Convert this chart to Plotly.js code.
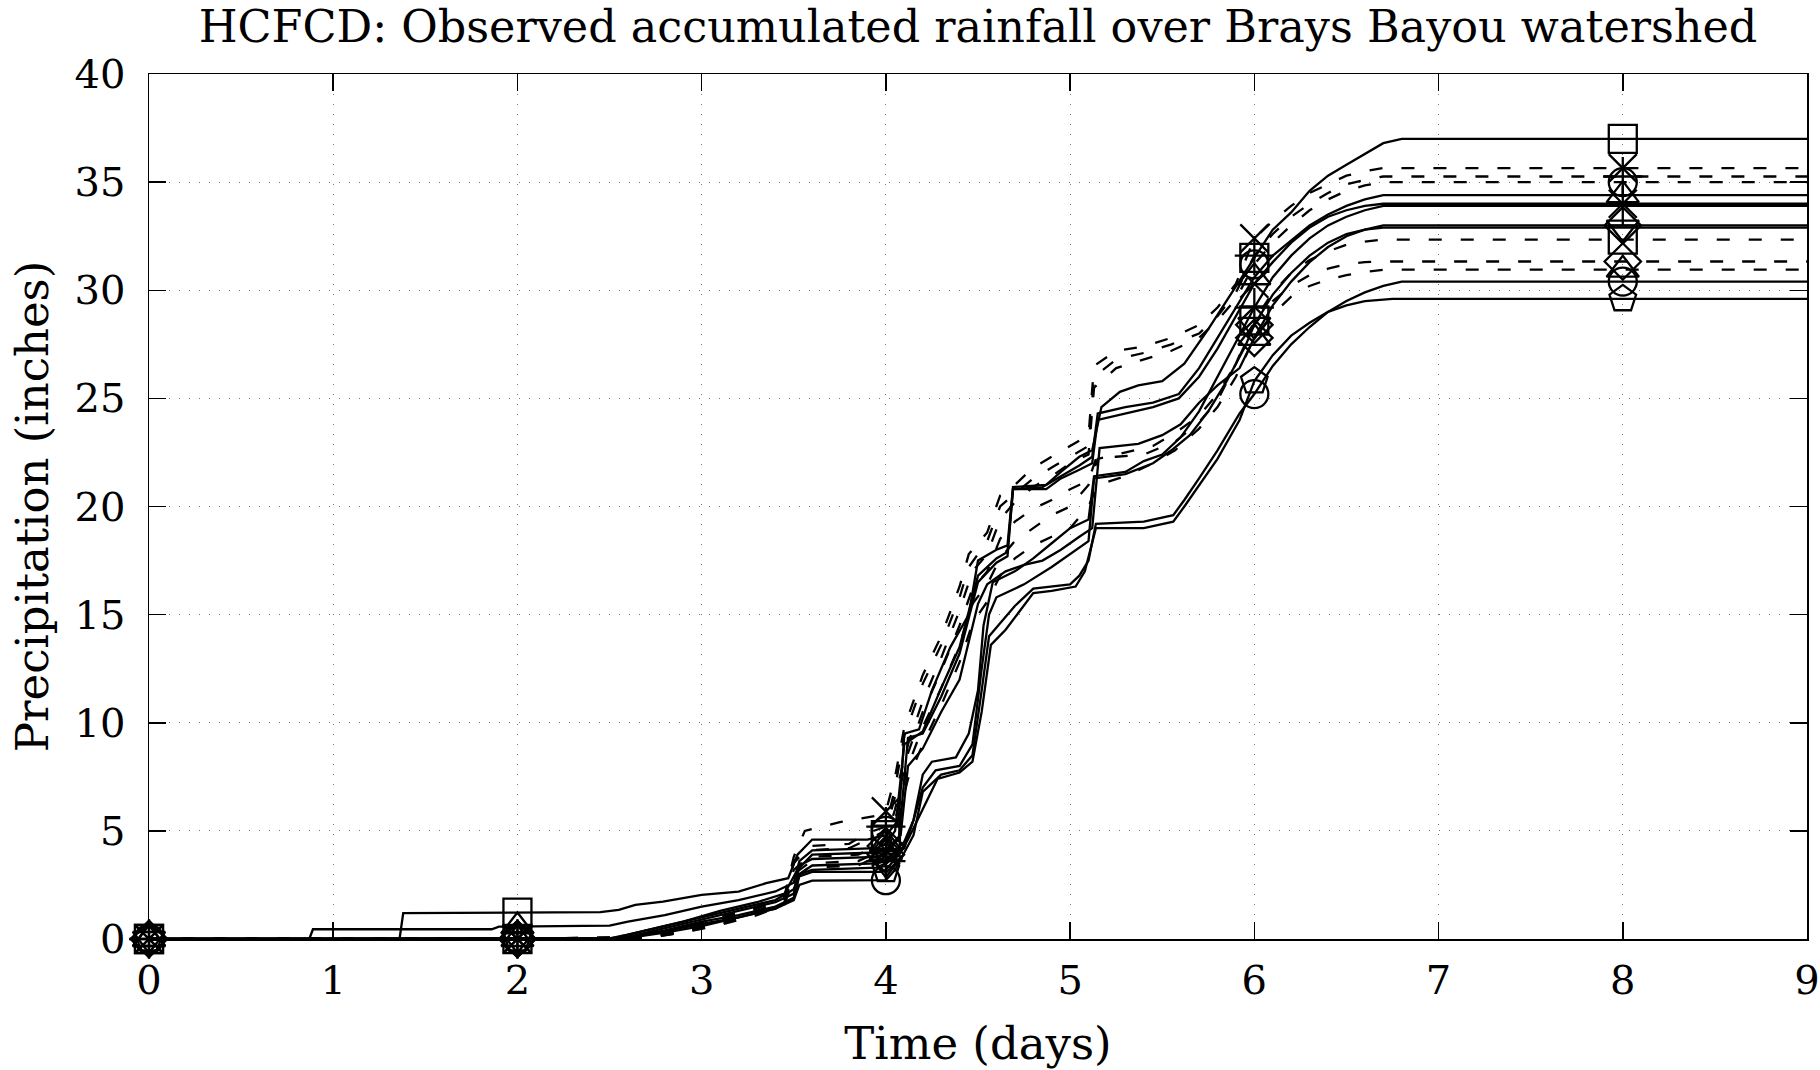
<!DOCTYPE html>
<html>
<head>
<meta charset="utf-8">
<script src="https://cdn.plot.ly/plotly-3.0.1.min.js"></script>
<style>
  html, body { margin: 0; padding: 0; background: #fff; }
  #chart { width: 1820px; height: 1070px; }
</style>
</head>
<body>
<div id="chart"></div>
<script>
// ---- Data (time in days, accumulated precipitation in inches) ----
const t_s1 = [0,1.36,1.38,2,2.45,2.55,2.64,2.79,3.0,3.2,3.35,3.47,3.52,3.6,3.9,4.0,4.07,4.1,4.18,4.25,4.35,4.45,4.5,4.6,4.66,4.69,4.87,4.95,5.05,5.12,5.17,5.27,5.37,5.5,5.62,5.75,5.87,6.0,6.1,6.2,6.3,6.4,6.5,6.6,6.7,6.8,8,9];
const p_s1 = [0,0,1.2,1.22,1.24,1.35,1.58,1.73,2.04,2.19,2.58,2.81,3.9,4.6,4.6,4.8,5.5,9.5,9.7,11.5,13.5,15.0,17.5,18.0,18.2,20.9,21.0,21.6,22.3,22.6,24.6,25.3,25.6,25.8,26.6,28.2,29.8,31.5,32.8,33.6,34.6,35.3,35.8,36.3,36.8,37.0,37.0,37.0];

const t_s2 = [0,0.87,0.89,1.86,1.9,2,2.5,2.6,2.8,3.0,3.2,3.4,3.5,3.53,3.6,3.95,4.0,4.05,4.1,4.2,4.3,4.4,4.5,4.6,4.66,4.69,4.85,4.95,5.05,5.12,5.15,5.3,5.45,5.59,5.7,5.8,5.9,6.0,6.1,6.2,6.3,6.4,6.5,6.6,6.7,8,9];
const p_s2 = [0,0,0.45,0.45,0.57,0.58,0.62,0.8,1.1,1.5,1.8,2.2,2.6,3.6,4.1,4.2,4.4,5.0,9.0,9.6,11.6,13.5,16.8,17.6,17.9,20.8,20.9,21.4,21.9,22.3,24.3,24.6,24.8,25.2,26.4,27.8,29.2,30.6,31.6,32.3,33.0,33.5,33.9,34.2,34.4,34.4,34.4];

const t_s3 = [0,2,2.5,2.55,2.7,2.9,3.1,3.3,3.45,3.52,3.6,3.95,4.0,4.07,4.12,4.2,4.3,4.4,4.5,4.6,4.66,4.69,4.87,4.95,5.05,5.12,5.15,5.3,5.45,5.59,5.7,5.8,5.9,6.0,6.1,6.2,6.3,6.4,6.5,6.6,6.7,8,9];
const p_s3 = [0,0,0.02,0.1,0.4,0.8,1.3,1.7,2.1,3.2,3.9,4.0,4.1,4.6,9.3,9.5,11.2,13.2,16.5,17.4,17.7,20.8,20.8,21.3,21.7,22.0,24.0,24.3,24.6,25.0,26.0,27.3,28.8,30.3,31.3,32.2,32.9,33.4,33.7,33.9,34.0,34.0,34.0];

const t_s4 = [0,2,2.5,2.6,2.8,3.0,3.2,3.4,3.5,3.53,3.6,3.95,4.0,4.1,4.15,4.2,4.25,4.38,4.45,4.5,4.53,4.58,4.7,4.8,4.9,5.0,5.1,5.13,5.3,5.4,5.5,5.6,5.7,5.8,5.9,6.0,6.1,6.2,6.3,6.4,6.5,6.6,6.7,8,9];
const p_s4 = [0,0,0.03,0.2,0.6,1.0,1.4,1.8,2.3,3.0,3.4,3.5,3.6,4.5,5.5,7.6,8.2,8.4,9.5,11.5,14.5,16.5,17.0,17.6,18.3,19.0,19.4,21.4,21.6,22.1,22.4,23.2,24.4,26.0,27.6,29.2,30.6,31.6,32.4,33.0,33.4,33.7,33.9,33.9,33.9];

const t_s5 = [0,2,2.5,2.6,2.8,3.0,3.2,3.4,3.5,3.53,3.6,3.95,4.0,4.08,4.12,4.2,4.3,4.4,4.5,4.55,4.65,4.75,4.85,4.95,5.05,5.12,5.16,5.37,5.5,5.6,5.7,5.8,5.92,6.0,6.1,6.2,6.3,6.4,6.5,6.6,6.7,8,9];
const p_s5 = [0,0,0.02,0.1,0.5,0.9,1.3,1.7,2.1,3.4,3.7,3.8,3.9,4.8,8.0,8.8,10.5,12.0,15.5,16.4,17.0,17.3,17.5,18.0,18.6,19.0,22.7,22.9,23.3,23.8,24.8,25.6,26.4,27.8,29.3,30.4,31.3,32.0,32.5,32.8,33.0,33.0,33.0];

const t_s6 = [0,2,2.5,2.6,2.8,3.0,3.2,3.4,3.5,3.53,3.6,3.95,4.0,4.1,4.15,4.2,4.27,4.4,4.47,4.52,4.56,4.6,4.75,4.9,5.0,5.1,5.13,5.3,5.45,5.55,5.65,5.75,5.85,5.95,6.0,6.1,6.2,6.3,6.4,6.5,6.6,6.7,8,9];
const p_s6 = [0,0,0.02,0.1,0.4,0.8,1.1,1.5,1.9,3.0,3.2,3.3,3.5,4.2,5.5,7.0,7.8,8.0,9.0,12.5,15.0,15.8,16.4,17.2,17.8,18.4,21.3,21.5,22.0,22.6,23.3,24.4,25.8,27.4,28.4,29.8,30.8,31.6,32.2,32.6,32.8,32.9,32.9,32.9];

const t_s7 = [0,2,2.5,2.6,2.8,3.0,3.2,3.4,3.5,3.53,3.6,3.98,4.0,4.05,4.1,4.15,4.2,4.3,4.4,4.47,4.52,4.56,4.62,4.7,4.8,5.0,5.05,5.1,5.14,5.4,5.56,5.62,5.7,5.8,5.92,6.0,6.1,6.2,6.3,6.4,6.5,6.6,6.7,6.8,8,9];
const p_s7 = [0,0,0.01,0.05,0.3,0.6,1.0,1.4,1.8,2.5,2.7,2.7,2.72,3.2,4.0,4.8,6.8,7.6,7.8,8.5,11.5,14.0,14.6,15.4,16.2,16.4,16.8,17.5,19.2,19.3,19.6,20.3,21.3,22.6,24.3,25.2,26.5,27.5,28.3,29.0,29.5,29.9,30.2,30.4,30.4,30.4];

const t_s8 = [0,2,2.5,2.6,2.8,3.0,3.2,3.4,3.5,3.53,3.6,3.97,4.0,4.05,4.12,4.2,4.28,4.4,4.47,4.52,4.57,4.65,4.72,4.8,4.9,5.03,5.08,5.14,5.4,5.56,5.62,5.7,5.8,5.92,6.0,6.1,6.2,6.3,6.4,6.5,6.6,6.75,8,9];
const p_s8 = [0,0,0.01,0.05,0.35,0.7,1.0,1.4,1.9,2.9,3.1,3.1,3.2,3.7,4.6,6.0,7.4,7.7,8.2,10.5,13.6,14.3,15.1,16.0,16.1,16.3,17.0,19.0,19.0,19.3,20.0,21.0,22.2,24.0,25.8,27.0,27.9,28.5,29.0,29.3,29.5,29.6,29.6,29.6];

const t_d1 = [0,2,2.7,2.9,3.1,3.3,3.45,3.5,3.56,3.75,3.95,4.0,4.05,4.1,4.2,4.3,4.4,4.45,4.55,4.62,4.7,4.8,4.9,5.0,5.1,5.13,5.25,5.4,5.55,5.7,5.8,5.9,6.0,6.1,6.2,6.3,6.4,6.5,6.6,6.7,8,9];
const p_d1 = [0,0,0.1,0.5,1.0,1.5,2.0,3.8,5.0,5.4,5.7,5.9,7.5,9.8,12.2,14.0,16.3,17.8,18.8,20.5,21.0,21.8,22.3,22.8,23.3,26.5,27.2,27.4,27.8,28.4,29.2,30.3,32.4,33.2,33.9,34.5,34.9,35.3,35.5,35.65,35.65,35.65];

const t_d2 = [0,2,2.7,2.9,3.1,3.3,3.45,3.5,3.58,3.8,3.9,4.0,4.05,4.1,4.2,4.3,4.4,4.45,4.55,4.62,4.7,4.8,4.9,5.0,5.1,5.13,5.25,5.4,5.55,5.7,5.8,5.9,6.0,6.1,6.2,6.3,6.4,6.5,6.6,6.7,8,9];
const p_d2 = [0,0,0.05,0.4,0.9,1.4,1.9,3.5,4.3,4.4,4.9,5.2,7.0,9.4,11.8,13.6,15.8,17.2,18.4,20.0,20.6,21.3,21.8,22.3,22.8,26.0,26.8,27.1,27.5,28.0,28.8,29.9,31.6,32.6,33.4,34.0,34.5,34.9,35.1,35.26,35.26,35.26];

const t_d3 = [0,2,2.7,2.9,3.1,3.3,3.45,3.5,3.58,3.8,3.9,4.0,4.05,4.12,4.2,4.3,4.4,4.47,4.55,4.62,4.7,4.8,4.9,5.0,5.1,5.13,5.25,5.4,5.55,5.7,5.8,5.9,6.0,6.1,6.2,6.3,6.4,6.5,6.6,6.7,8,9];
const p_d3 = [0,0,0.1,0.45,0.95,1.45,1.95,3.6,4.1,4.2,4.6,5.0,6.6,9.0,11.0,13.0,15.2,17.0,17.8,19.4,20.2,20.9,21.4,22.0,22.4,25.5,26.4,26.8,27.2,27.8,28.6,29.6,31.2,32.2,33.0,33.7,34.2,34.6,34.85,35.0,35.0,35.0];

const t_d4 = [0,2,2.7,2.9,3.1,3.3,3.45,3.5,3.58,3.85,3.95,4.0,4.05,4.12,4.2,4.3,4.4,4.47,4.55,4.62,4.7,4.8,4.9,5.0,5.1,5.14,5.25,5.4,5.57,5.7,5.8,5.9,6.0,6.1,6.2,6.3,6.4,6.5,6.6,6.7,8,9];
const p_d4 = [0,0,0.05,0.3,0.7,1.2,1.7,3.2,3.8,3.9,4.3,4.6,6.0,8.6,10.5,12.4,14.5,16.2,17.0,18.5,19.3,19.9,20.3,20.8,21.2,22.2,22.3,22.4,23.0,23.9,24.9,26.6,28.6,29.9,30.8,31.4,31.8,32.1,32.25,32.34,32.34,32.34];

const t_d5 = [0,2,2.7,2.9,3.1,3.3,3.45,3.5,3.58,3.85,3.95,4.0,4.05,4.12,4.2,4.3,4.4,4.47,4.55,4.62,4.7,4.8,4.9,5.0,5.05,5.1,5.15,5.3,5.45,5.57,5.7,5.8,5.9,6.0,6.1,6.2,6.3,6.4,6.5,6.6,6.7,8,9];
const p_d5 = [0,0,0.05,0.35,0.8,1.3,1.8,3.0,3.5,3.6,4.0,4.3,5.5,8.0,9.8,11.6,13.6,15.5,16.4,17.6,18.4,19.0,19.6,20.0,20.5,21.0,22.2,22.5,22.8,23.4,24.2,25.2,26.6,28.4,29.5,30.2,30.7,31.0,31.2,31.3,31.33,31.33,31.33];

const t_d6 = [0,2,2.7,2.9,3.1,3.3,3.45,3.5,3.58,3.85,3.95,4.0,4.05,4.12,4.2,4.3,4.4,4.47,4.55,4.62,4.7,4.8,4.9,5.0,5.05,5.1,5.15,5.3,5.45,5.57,5.7,5.8,5.9,6.0,6.1,6.2,6.3,6.4,6.5,6.6,6.7,8,9];
const p_d6 = [0,0,0.05,0.3,0.65,1.1,1.6,2.8,3.3,3.4,3.8,4.0,5.0,7.4,9.0,10.8,12.8,14.6,15.6,16.8,17.6,18.2,18.6,19.0,19.5,20.0,21.0,21.4,22.0,22.6,23.6,24.6,26.0,27.8,28.9,29.7,30.2,30.5,30.7,30.85,30.95,30.95,30.95];

const markerDays = [0, 2, 4, 6, 8];
const xTicks = [0,1,2,3,4,5,6,7,8,9];
const yTicks = [0,5,10,15,20,25,30,35,40];

const seriesList = [
  {t: t_s1, p: p_s1, dash: 'solid', sym: 'square-open'},
  {t: t_s2, p: p_s2, dash: 'solid', sym: 'triangle-up-open'},
  {t: t_s3, p: p_s3, dash: 'solid', sym: 'x-thin-open'},
  {t: t_s4, p: p_s4, dash: 'solid', sym: 'cross-thin-open'},
  {t: t_s5, p: p_s5, dash: 'solid', sym: 'diamond-open'},
  {t: t_s6, p: p_s6, dash: 'solid', sym: 'triangle-down-open'},
  {t: t_s7, p: p_s7, dash: 'solid', sym: 'circle-open'},
  {t: t_s8, p: p_s8, dash: 'solid', sym: 'pentagon-open'},
  {t: t_d1, p: p_d1, dash: '13px,19px', sym: 'x-thin-open'},
  {t: t_d2, p: p_d2, dash: '13px,19px', sym: 'cross-thin-open'},
  {t: t_d3, p: p_d3, dash: '13px,19px', sym: 'circle-open'},
  {t: t_d4, p: p_d4, dash: '13px,19px', sym: 'square-open'},
  {t: t_d5, p: p_d5, dash: '13px,19px', sym: 'diamond-open'},
  {t: t_d6, p: p_d6, dash: '13px,19px', sym: 'triangle-up-open'}
];

const traces = seriesList.map(s => ({
  type: 'scatter',
  mode: 'lines+markers',
  x: s.t,
  y: s.p,
  cliponaxis: false,
  line: {color: '#000', width: 2.3, dash: s.dash},
  marker: {
    symbol: s.sym,
    color: '#000',
    opacity: 1,
    size: s.t.map(v => markerDays.includes(v) ? 28 : 0),
    line: {color: '#000', width: 2.3}
  },
  hoverinfo: 'x+y',
  showlegend: false
}));

const FONT = 'DejaVu Serif, serif';

const layout = {
  width: 1820,
  height: 1070,
  paper_bgcolor: '#fff',
  plot_bgcolor: '#fff',
  margin: {l: 149, r: 13, t: 74, b: 131},
  font: {family: FONT, color: '#000'},
  title: {
    text: 'HCFCD: Observed accumulated rainfall over Brays Bayou watershed',
    font: {family: FONT, size: 44.5, color: '#000'},
    x: 0.5, xref: 'paper', xanchor: 'center',
    y: 0.975, yref: 'container', yanchor: 'middle'
  },
  xaxis: {
    range: [0, 9],
    tickvals: xTicks,
    ticktext: xTicks.map(String),
    ticks: 'inside', ticklen: 17, tickwidth: 1.5, tickcolor: '#000',
    showline: true, linecolor: '#000', linewidth: 1.5, mirror: 'ticks',
    showgrid: true, gridcolor: '#777', gridwidth: 1, griddash: '1px,9px',
    zeroline: false,
    tickfont: {family: FONT, size: 40, color: '#000'},
    ticklabelstandoff: 5,
    title: {text: 'Time (days)', font: {family: FONT, size: 45, color: '#000'}, standoff: 39}
  },
  yaxis: {
    range: [0, 40],
    tickvals: yTicks,
    ticktext: yTicks.map(String),
    ticks: 'inside', ticklen: 17, tickwidth: 1.5, tickcolor: '#000',
    showline: true, linecolor: '#000', linewidth: 1.5, mirror: 'ticks',
    showgrid: true, gridcolor: '#777', gridwidth: 1, griddash: '1px,9px',
    zeroline: false,
    tickfont: {family: FONT, size: 40, color: '#000'},
    ticklabelstandoff: 14,
    title: {text: 'Precipitation (inches)', font: {family: FONT, size: 45, color: '#000'}, standoff: 12}
  }
};

Plotly.newPlot('chart', traces, layout, {staticPlot: true, displayModeBar: false});
</script>
</body>
</html>
